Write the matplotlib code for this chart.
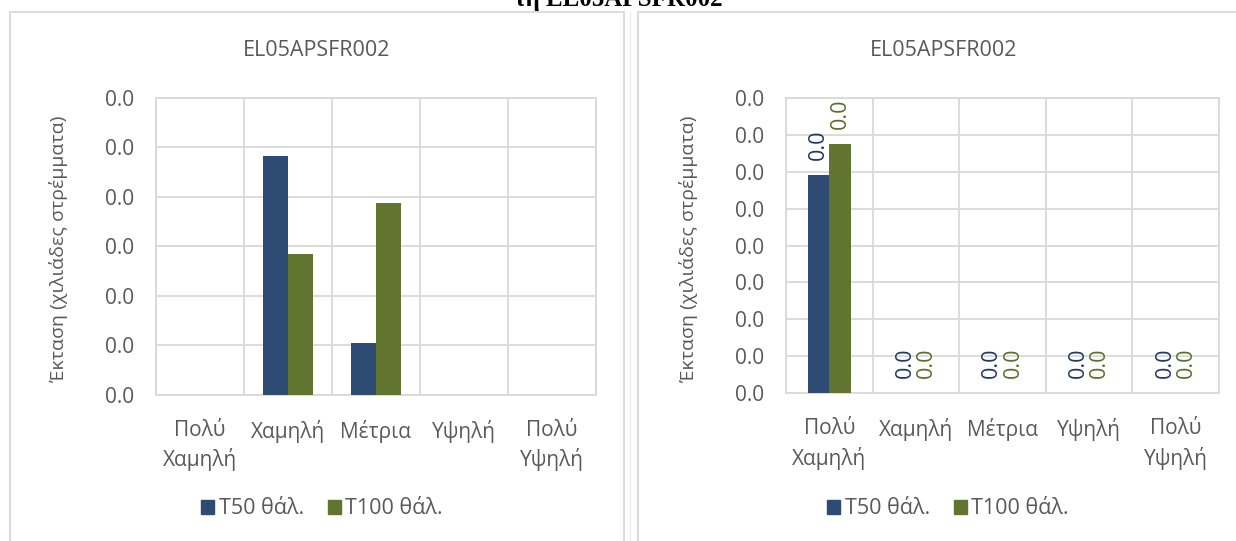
import matplotlib
matplotlib.use('Agg')
import matplotlib.pyplot as plt
from matplotlib.patches import Rectangle, Patch
import numpy as np

plt.rcParams['font.family'] = ['Open Sans', 'DejaVu Sans']

# data (values in thousands of stremmata, all tiny -> shown as 0.0)
categories = ['Πολύ\nΧαμηλή', 'Χαμηλή', 'Μέτρια', 'Υψηλή', 'Πολύ\nΥψηλή']
series_names = ['T50 θάλ.', 'T100 θάλ.']
left_t50 = [0.0, 0.0386, 0.0084, 0.0, 0.0]
left_t100 = [0.0, 0.0228, 0.0310, 0.0, 0.0]
right_t50 = [0.0295, 0.0, 0.0, 0.0, 0.0]
right_t100 = [0.0337, 0.0, 0.0, 0.0, 0.0]
left_ticks = [0.0, 0.008, 0.016, 0.024, 0.032, 0.040, 0.048]
right_ticks = [0.0, 0.005, 0.01, 0.015, 0.02, 0.025, 0.03, 0.035, 0.04]

chart_title = 'EL05APSFR002'
y_title = 'Έκταση (χιλιάδες στρέμματα)'
page_title = 'τη EL05APSFR002'

BLUE = '#2e4c73'
GREEN = '#627530'
BLUE_TXT = '#1f3864'
GREEN_TXT = '#58702b'
GRID = '#d9d9d9'
TXT = '#595959'

W, H = 1236, 541
fig = plt.figure(figsize=(W / 100, H / 100), dpi=100)


def px_axes(left, top, right, bottom):
    return fig.add_axes([left / W, 1 - bottom / H, (right - left) / W, (bottom - top) / H])


def draw_chart(ax, t50, t100, ticks, width, labels):
    x = np.arange(len(categories))
    b1 = ax.bar(x - width / 2, t50, width, color=BLUE, zorder=3)
    b2 = ax.bar(x + width / 2, t100, width, color=GREEN, zorder=3)
    ax.set_xlim(-0.5, len(categories) - 0.5)
    ax.set_ylim(ticks[0], ticks[-1])
    ax.set_yticks(ticks)
    ax.set_yticklabels(['%.1f' % t for t in ticks])
    ax.set_xticks(x)
    ax.set_xticklabels(categories, linespacing=1.4)
    ax.set_xticks(np.arange(-0.5, len(categories), 1), minor=True)
    ax.grid(axis='y', which='major', color=GRID, lw=1.3, zorder=0)
    ax.grid(axis='x', which='minor', color=GRID, lw=1.3, zorder=0)
    ax.tick_params(axis='both', which='both', length=0, labelsize=15, labelcolor=TXT)
    ax.tick_params(axis='y', pad=16)
    ax.tick_params(axis='x', pad=18)
    for s in ax.spines.values():
        s.set_color(GRID)
        s.set_linewidth(1.3)
    if labels:
        for bars, vals, c in ((b1, t50, BLUE_TXT), (b2, t100, GREEN_TXT)):
            for r, v in zip(bars, vals):
                ax.annotate('%.1f' % v, (r.get_x() + r.get_width() / 2, v),
                            xytext=(0, 11), textcoords='offset points',
                            ha='center', va='bottom', rotation=90,
                            fontsize=15.5, color=c)


# panel frames
fig.patches.append(Rectangle((9.5 / W, -0.1), (624 - 9.5) / W, 1.1 - 12 / H,
                             transform=fig.transFigure, fill=False,
                             edgecolor=GRID, lw=1.3))
fig.patches.append(Rectangle((638 / W, -0.1), (1250 - 638) / W, 1.1 - 12 / H,
                             transform=fig.transFigure, fill=False,
                             edgecolor=GRID, lw=1.3))
fig.add_artist(plt.Line2D([630 / W, 630 / W], [0, 1 - 12 / H],
                          transform=fig.transFigure, color='#efefef', lw=1))

ax1 = px_axes(156, 97.7, 596, 395)
draw_chart(ax1, left_t50, left_t100, left_ticks, 0.284, False)

ax2 = px_axes(786, 97.7, 1219, 393.3)
draw_chart(ax2, right_t50, right_t100, right_ticks, 0.248, True)

# titles and axis titles
fig.text(317 / W, 1 - 50 / H, chart_title, ha='center', va='center', fontsize=15.5, color=TXT)
fig.text(944 / W, 1 - 50 / H, chart_title, ha='center', va='center', fontsize=15.5, color=TXT)
fig.text(58 / W, 1 - 249 / H, y_title, ha='center', va='center', rotation=90, fontsize=14, color=TXT)
fig.text(688 / W, 1 - 249 / H, y_title, ha='center', va='center', rotation=90, fontsize=14, color=TXT)

fig.text(618 / W, 1 - 6 / H, page_title, ha='center', va='baseline', fontsize=18,
         fontweight='bold', family='Liberation Serif', color='black')

# legends
handles = [Patch(color=BLUE), Patch(color=GREEN)]
for ax, cx in ((ax1, 322), (ax2, 948)):
    ax.legend(handles, series_names, loc='center', bbox_to_anchor=(cx / W, 1 - 509 / H),
              bbox_transform=fig.transFigure, ncol=2, frameon=False, fontsize=15.5,
              labelcolor=TXT, handlelength=0.62, handleheight=0.62,
              handletextpad=0.2, columnspacing=1.1, borderpad=0)

fig.savefig('out.png', dpi=100)
